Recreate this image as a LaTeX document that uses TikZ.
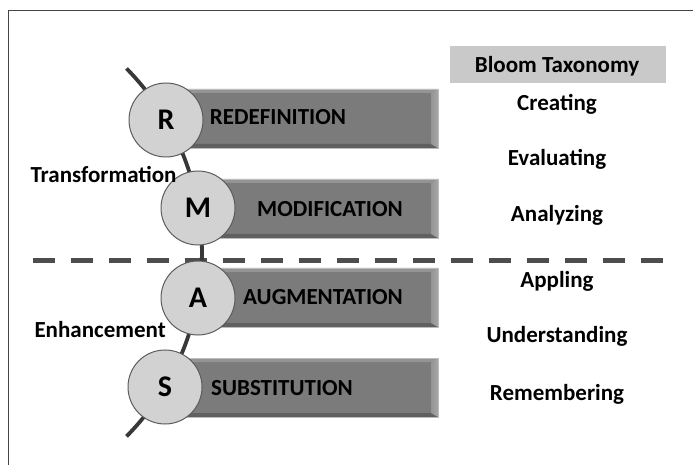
\documentclass[tikz,border=0pt]{standalone}
\usepackage{fontspec}
\setmainfont{Carlito}
\usetikzlibrary{calc}
\definecolor{framegray}{HTML}{444444}
\definecolor{dashgray}{HTML}{4D4D4D}
\definecolor{spinegray}{HTML}{383838}
\definecolor{barfill}{HTML}{7B7B7B}
\definecolor{bartop}{HTML}{949494}
\definecolor{barside}{HTML}{A6A6A6}
\definecolor{barbottom}{HTML}{606060}
\definecolor{barline}{HTML}{BDBDBD}
\definecolor{discfill}{HTML}{D2D2D2}
\definecolor{discline}{HTML}{5C5C5C}
\definecolor{headfill}{HTML}{C9C9C9}
\tikzset{
  bar/.style={rectangle, fill=barfill, draw=barline, line width=0.8bp,
    minimum height=59bp, inner sep=0pt,
    path picture={
      \fill[bartop] (path picture bounding box.north west) -- (path picture bounding box.north east)
        -- ([xshift=-7bp,yshift=-4bp]path picture bounding box.north east)
        -- ([yshift=-4bp]path picture bounding box.north west) -- cycle;
      \fill[barbottom] (path picture bounding box.south west) -- (path picture bounding box.south east)
        -- ([xshift=-7bp,yshift=4bp]path picture bounding box.south east)
        -- ([yshift=4bp]path picture bounding box.south west) -- cycle;
      \shade[left color=barfill!40!barside, right color=barside]
        (path picture bounding box.north east) -- (path picture bounding box.south east)
        -- ([xshift=-7bp,yshift=4bp]path picture bounding box.south east)
        -- ([xshift=-7bp,yshift=-4bp]path picture bounding box.north east) -- cycle;
    }},
  disc/.style={circle, fill=discfill, draw=discline, line width=1bp,
    minimum size=74bp, inner sep=0pt, font=\fontsize{30bp}{30bp}\selectfont\bfseries},
  bartext/.style={anchor=base, font=\fontsize{23bp}{25bp}\selectfont\bfseries},
  bloom/.style={anchor=base, font=\fontsize{23bp}{25bp}\selectfont\bfseries},
  sidetext/.style={anchor=base west, font=\fontsize{23bp}{25bp}\selectfont\bfseries}
}
\begin{document}
\begin{tikzpicture}[x=1bp,y=-1bp]
\useasboundingbox (0,0) rectangle (693,465);
\fill[white] (0,0) rectangle (693,465);

% partial frame: top and left edges
\coordinate (ftl) at (8,11);
\coordinate (ftr) at (693,11);
\coordinate (fbl) at (8,465);
\draw[framegray, line width=1bp] (ftr) -- (ftl) -- (fbl);

% divider between transformation and enhancement
\coordinate (dashL) at (33,261);
\coordinate (dashR) at (665,261);
\draw[dashgray, line width=5bp, dash pattern=on 22bp off 16bp] (dashL) -- (dashR);

% curved spine through the four levels
\coordinate (spinetop) at (126.5,68.5);
\draw[spinegray, line width=3.8bp] (spinetop) arc[start angle=-44.6, end angle=44.6, radius=262];

% level bars
\node[bar, minimum width=272bp] (barR) at (302,118.5) {};
\node[bar, minimum width=240bp] (barM) at (318,208.5) {};
\node[bar, minimum width=240bp] (barA) at (318,297.5) {};
\node[bar, minimum width=273bp] (barS) at (301.5,387.5) {};

% level discs
\node[disc] (R) at (166,120) {R};
\node[disc] (M) at (198,208) {M};
\node[disc] (A) at (198,298) {A};
\node[disc] (S) at (165,387) {S};

% bar labels
\node[bartext] (tR) at (278,125) {REDEFINITION};
\node[bartext] (tM) at (330,217) {MODIFICATION};
\node[bartext] (tA) at (323,305) {AUGMENTATION};
\node[bartext] (tS) at (282,395) {SUBSTITUTION};

% group labels
\node[sidetext] (trans) at (27,183) {Transformation};
\node[sidetext] (enh) at (31,338) {Enhancement};

% Bloom taxonomy column
\node[fill=headfill, minimum width=216bp, minimum height=37bp, inner sep=0pt] (head) at (558,64.5) {};
\node[bloom] (headtxt) at (557,73) {Bloom Taxonomy};
\node[bloom] (b1) at (557,111) {Creating};
\node[bloom] (b2) at (557,166) {Evaluating};
\node[bloom] (b3) at (557,222) {Analyzing};
\node[bloom] (b4) at (557,288) {Appling};
\node[bloom] (b5) at (557,343) {Understanding};
\node[bloom] (b6) at (557,400) {Remembering};
\end{tikzpicture}
\end{document}
